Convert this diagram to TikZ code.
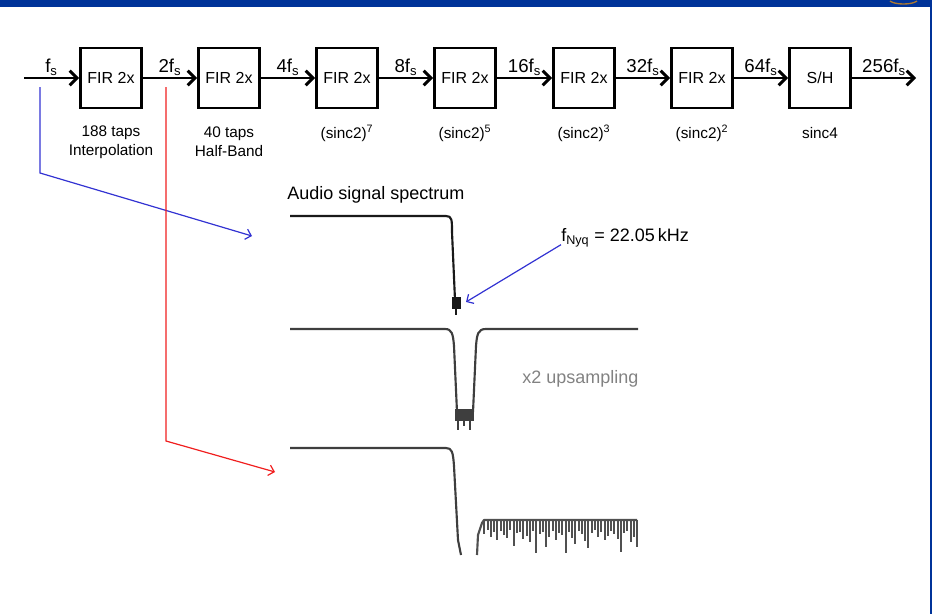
\documentclass[tikz,border=0pt]{standalone}
\usepackage{fontspec}
\setmainfont{Liberation Sans}
\usetikzlibrary{arrows.meta}
\definecolor{barblue}{RGB}{0,51,153}
\definecolor{linkblue}{RGB}{50,50,210}
\definecolor{linkred}{RGB}{240,30,30}
\definecolor{spec}{RGB}{62,62,62}
\definecolor{specnoise}{RGB}{80,80,80}
\definecolor{specdark}{RGB}{25,25,25}
\definecolor{logobrown}{RGB}{170,120,50}
\definecolor{graytext}{RGB}{130,130,130}
\begin{document}
\begin{tikzpicture}[x=0.75pt,y=-0.75pt,
  blk/.style={draw, line width=2.2pt, minimum width=45.8pt, minimum height=45pt, inner sep=0pt, font=\fontsize{12}{14}\selectfont},
  arr/.style={line width=2.2pt, -{Straight Barb[length=5.5pt,width=11pt]}},
  lab/.style={font=\fontsize{14}{16}\selectfont, inner sep=1pt},
  sub/.style={font=\fontsize{11.5}{14.25}\selectfont, align=center, inner sep=0pt},
  link/.style={line width=0.9pt, -{Straight Barb[length=4pt,width=8pt]}},
  curve/.style={line width=1.6pt, spec, line join=round},
  big/.style={font=\fontsize{13.5}{16}\selectfont, inner sep=0pt}]
\useasboundingbox (0,0) rectangle (932,614);
% frame
\fill[barblue] (0,0) rectangle (932,7);
\fill[barblue] (930,0) rectangle (932,614);
\draw[logobrown, line width=1pt] (890,1) .. controls (895,5) and (912,5) .. (917,1);

% chain
\coordinate (in) at (24,78);
\coordinate (out) at (916,78);
\node[blk] (b1) at (111,78) {FIR 2x};
\node[blk] (b2) at (229,78) {FIR 2x};
\node[blk] (b3) at (347,78) {FIR 2x};
\node[blk] (b4) at (465,78) {FIR 2x};
\node[blk] (b5) at (584,78) {FIR 2x};
\node[blk] (b6) at (702,78) {FIR 2x};
\node[blk] (b7) at (820,78) {S/H};
\draw[arr] (in) -- node[lab, above] {f\textsubscript{s}} (b1);
\draw[arr] (b1) -- node[lab, above] {2f\textsubscript{s}} (b2);
\draw[arr] (b2) -- node[lab, above] {4f\textsubscript{s}} (b3);
\draw[arr] (b3) -- node[lab, above] {8f\textsubscript{s}} (b4);
\draw[arr] (b4) -- node[lab, above] {16f\textsubscript{s}} (b5);
\draw[arr] (b5) -- node[lab, above] {32f\textsubscript{s}} (b6);
\draw[arr] (b6) -- node[lab, above] {64f\textsubscript{s}} (b7);
\draw[arr] (b7) -- node[lab, above] {256f\textsubscript{s}} (out);

% labels under boxes
\node[sub] (s1) at (111,142) {188 taps\\Interpolation};
\node[sub] (s2) at (229,142) {40 taps\\Half-Band};
\node[sub] (s3) at (347,133) {(sinc2)\textsuperscript{7}};
\node[sub] (s4) at (465,133) {(sinc2)\textsuperscript{5}};
\node[sub] (s5) at (584,133) {(sinc2)\textsuperscript{3}};
\node[sub] (s6) at (702,133) {(sinc2)\textsuperscript{2}};
\node[sub] (s7) at (820,133) {sinc4};

% taps to spectra
\coordinate (bs) at (40,87);
\coordinate (bc) at (40,173);
\coordinate (be) at (252,236);
\draw[link, linkblue] (bs) -- (bc) -- (be);
\coordinate (rs) at (166,87);
\coordinate (rc) at (166,441);
\coordinate (re) at (275,472);
\draw[link, linkred] (rs) -- (rc) -- (re);

% titles
\node[big, anchor=west] (title) at (287,195) {Audio signal spectrum};
\node[big, anchor=west] (nyq) at (561,238) {f\textsubscript{Nyq} = 22.05\,kHz};
\node[big, anchor=west, text=graytext] (ups) at (522,379) {x2 upsampling};
\coordinate (nyqtip) at (466,302);
\draw[link, linkblue] ([yshift=-5pt]nyq.west) -- (nyqtip);

% spectrum 1
\draw[curve, specdark] (290,216) -- (446,216) .. controls (452,216) and (452,220) .. (452,232) -- (455,300);
\fill[specdark] (452,297) rectangle (461,309);
\draw[specdark, line width=1.4pt] (456,308) -- (456,315);

% spectrum 2
\draw[curve] (290,329) -- (445,329) .. controls (452,329) and (453,334) .. (454,346) -- (457,412)
  (473,412) -- (476,346) .. controls (477,334) and (478,329) .. (486,329) -- (638,329);
\fill[spec] (455,409) rectangle (474,421);
\draw[spec, line width=1.4pt] (458,420) -- (458,430) (464,420) -- (464,426) (470,420) -- (470,430);

% spectrum 3
\draw[curve] (290,448) -- (446,448) .. controls (452,448) and (453,452) .. (454,466) -- (458,540) -- (461,555);
\draw[curve, specnoise] (477,555) -- (478,535) -- (482,523) -- (484,520) -- (637,520);
\foreach \d [count=\i] in {14,10,17,12,20,11,15,18,10,26,13,12,19,16,22,11,33,14,12,27,17,11,20,13,15,33,12,18,24,11,14,21,28,13,10,17,12,20,16,11,14,19,32,13,11,22,17,27}
  \draw[specnoise, line width=1.5pt] ({481+3.25*\i},520) -- ++(0,\d);
\end{tikzpicture}
\end{document}
